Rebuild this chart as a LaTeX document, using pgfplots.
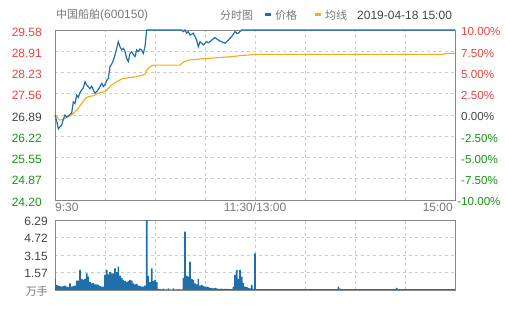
\documentclass[border=0pt]{standalone}
\usepackage{pgfplots}
\pgfplotsset{compat=1.18}
\usepackage{fontspec}
\setmainfont{Liberation Sans}
\newfontfamily\cjk{Noto Sans CJK SC}
\definecolor{pblue}{RGB}{31,112,170}
\definecolor{avgorange}{RGB}{250,168,20}
\definecolor{upred}{RGB}{240,64,64}
\definecolor{dngreen}{RGB}{20,150,20}
\definecolor{txtdark}{RGB}{68,68,68}
\definecolor{txtgray}{RGB}{120,120,120}
\definecolor{gridc}{RGB}{204,204,204}
\definecolor{framec}{RGB}{136,136,136}
\begin{document}
\fontsize{12}{14}\selectfont
\begin{tikzpicture}
\useasboundingbox (0pt,0pt) rectangle (505pt,310pt);
% title and legend
\node[anchor=west, text=txtgray, inner sep=0pt, font=\fontsize{12}{14}\selectfont] at (56pt,295pt) {{\fontsize{11}{13}\selectfont\cjk 中国船舶}(600150)};
\node[anchor=west, text=txtgray, inner sep=0pt, font=\fontsize{11}{13}\selectfont\cjk] at (220pt,295pt) {分时图};
\fill[pblue] (265pt,294pt) rectangle (271pt,296.5pt);
\node[anchor=west, text=txtgray, inner sep=0pt, font=\fontsize{11}{13}\selectfont\cjk] at (275pt,295pt) {价格};
\fill[avgorange] (315pt,294pt) rectangle (321pt,296.5pt);
\node[anchor=west, text=txtgray, inner sep=0pt, font=\fontsize{11}{13}\selectfont\cjk] at (325pt,295pt) {均线};
\node[anchor=west, text=txtdark, inner sep=0pt, font=\fontsize{12}{14}\selectfont] at (357pt,295pt) {2019-04-18 15:00};
% main price axis
\begin{axis}[
  at={(55pt,110pt)}, anchor=south west,
  width=400pt, height=170pt, scale only axis,
  xmin=0, xmax=240, ymin=24.20, ymax=29.58,
  xtick={0,30,...,240}, xticklabels={},
  ytick={24.20,24.8725,25.545,26.2175,26.89,27.5625,28.235,28.9075,29.58},
  yticklabels={\textcolor{dngreen}{24.20},\textcolor{dngreen}{24.87},\textcolor{dngreen}{25.55},\textcolor{dngreen}{26.22},\textcolor{txtdark}{26.89},\textcolor{upred}{27.56},\textcolor{upred}{28.23},\textcolor{upred}{28.91},\textcolor{upred}{29.58}},
  grid=major, grid style={gridc, dash pattern=on 3pt off 3pt, line width=0.6pt},
  axis line style={framec, line width=0.9pt},
  major tick length=0pt,
  yticklabel style={anchor=east, xshift=-9pt, yshift=-2pt, font=\fontsize{12}{14}\selectfont},
  clip=false,
]
\addplot[avgorange, line width=1.1pt] coordinates {
(0,26.89)(3,26.73)(5,26.76)(8,26.84)(10,26.89)(12,26.99)(14,27.10)(16,27.26)(18,27.40)(20,27.47)
(23,27.50)(26,27.58)(30,27.63)(32,27.73)(34,27.84)(37,27.94)(40,28.03)(44,28.07)(49,28.10)(53,28.16)
(54,28.18)(55,28.30)(56,28.37)(58,28.45)(60,28.47)(75,28.47)(77,28.56)(80,28.63)(91,28.68)(107,28.74)
(111,28.77)(117,28.79)(120,28.81)(233,28.81)(234,28.84)(240,28.84)};
\addplot[pblue, line width=1.2pt] coordinates {
(0,26.89)(1,26.70)(2,26.45)(3,26.52)(4,26.57)(5,26.75)(6,26.89)(7,26.82)(8,26.86)(9,26.91)
(10,26.95)(11,27.31)(12,27.25)(13,27.52)(14,27.45)(15,27.60)(16,27.68)(17,27.75)(18,27.94)(19,27.84)
(20,27.78)(21,27.72)(22,27.80)(23,27.68)(24,27.58)(25,27.63)(26,27.70)(27,27.79)(28,27.89)(29,27.79)
(30,27.85)(31,27.98)(32,28.05)(33,28.42)(34,28.50)(35,28.62)(36,28.79)(37,29.00)(38,29.21)(39,29.05)
(40,28.95)(41,29.00)(42,28.90)(43,28.68)(44,28.58)(45,28.84)(46,28.89)(47,28.80)(48,28.74)(49,28.95)
(50,28.90)(51,28.98)(52,28.95)(53,28.84)(54,29.05)(55,29.58)(76,29.58)(77,29.53)(78,29.58)(79,29.48)
(80,29.53)(81,29.42)(82,29.45)(83,29.48)(84,29.37)(85,29.26)(86,29.05)(87,29.21)(88,29.16)(89,29.11)
(90,29.16)(91,29.21)(92,29.18)(93,29.21)(94,29.26)(95,29.30)(96,29.34)(97,29.30)(98,29.26)(99,29.23)
(100,29.21)(101,29.18)(102,29.16)(103,29.21)(104,29.26)(105,29.32)(106,29.37)(107,29.45)(108,29.53)(109,29.48)
(110,29.48)(111,29.53)(112,29.58)(240,29.58)};
\node[anchor=north west, text=txtgray, inner sep=0pt, font=\fontsize{12}{14}\selectfont] at (rel axis cs:0,0) [yshift=-3pt] {9:30};
\node[anchor=north, text=txtgray, inner sep=0pt, font=\fontsize{12}{14}\selectfont] at (rel axis cs:0.5,0) [yshift=-3pt] {11:30/13:00};
\node[anchor=north east, text=txtgray, inner sep=0pt, font=\fontsize{12}{14}\selectfont] at (rel axis cs:1,0) [yshift=-3pt,xshift=-2pt] {15:00};
\end{axis}
% right percentage axis
\begin{axis}[
  at={(55pt,110pt)}, anchor=south west,
  width=400pt, height=170pt, scale only axis,
  xmin=0, xmax=240, ymin=-10, ymax=10,
  axis x line=none, axis y line*=right,
  ytick={-10,-7.5,-5,-2.5,0,2.5,5,7.5,10},
  yticklabels={\textcolor{dngreen}{\llap{-}10.00\%},\textcolor{dngreen}{-7.50\%},\textcolor{dngreen}{-5.00\%},\textcolor{dngreen}{-2.50\%},\textcolor{txtdark}{0.00\%},\textcolor{upred}{2.50\%},\textcolor{upred}{5.00\%},\textcolor{upred}{7.50\%},\textcolor{upred}{10.00\%}},
  axis line style={framec, line width=0.9pt},
  major tick length=0pt,
  yticklabel style={anchor=west, xshift=2pt, yshift=-2pt, font=\fontsize{11.6}{14}\selectfont},
]
\addplot[draw=none] coordinates {(0,0)};
\end{axis}
% volume axis
\begin{axis}[
  at={(55pt,20pt)}, anchor=south west,
  width=400pt, height=70pt, scale only axis,
  xmin=0, xmax=240, ymin=0, ymax=6.29,
  xtick={0,30,...,240}, xticklabels={},
  ytick={0,1.5725,3.145,4.7175,6.29},
  yticklabels={\textcolor{txtgray}{\fontsize{11}{13}\selectfont\cjk 万手},\textcolor{txtdark}{1.57},\textcolor{txtdark}{3.15},\textcolor{txtdark}{4.72},\textcolor{txtdark}{6.29}},
  grid=major, grid style={gridc, dash pattern=on 3pt off 3pt, line width=0.6pt},
  axis line style={framec, line width=0.9pt},
  major tick length=0pt,
  yticklabel style={anchor=east, xshift=-3pt, yshift=-1pt, font=\fontsize{12}{14}\selectfont},
]
\addplot[ybar, bar width=1, bar shift=0pt, fill=pblue, draw=none] coordinates {
(0,1.0)(1,0.45)(2,0.4)(3,0.35)(4,0.3)(5,0.35)(6,0.4)(7,0.3)(8,0.25)(9,0.6)
(10,0.3)(11,0.35)(12,0.4)(13,0.84)(14,0.84)(15,1.8)(16,1.0)(17,0.9)(18,1.0)(19,1.5)
(20,1.2)(21,0.7)(22,0.6)(23,0.65)(24,0.5)(25,0.5)(26,0.45)(27,0.35)(28,0.3)(29,0.3)
(30,1.35)(31,1.8)(32,1.4)(33,1.6)(34,1.5)(35,1.5)(36,1.95)(37,1.6)(38,2.1)(39,1.3)
(40,1.1)(41,0.9)(42,0.8)(43,0.7)(44,0.8)(45,0.9)(46,0.85)(47,0.6)(48,0.5)(49,0.55)
(50,0.4)(51,0.35)(52,0.3)(53,0.3)(54,0.4)(55,6.29)(56,1.26)(57,0.7)(58,1.95)(59,0.8)
(60,0.9)(61,0.7)(62,0.1)(63,0.08)(64,0.05)(65,0.12)(66,0.05)(67,0.06)(68,0.15)(69,0.05)
(70,0.04)(71,0.15)(72,0.05)(73,0.05)(74,0.08)(75,0.05)(76,0.06)(77,1.1)(78,5.24)(79,1.3)
(80,1.2)(81,2.55)(82,1.0)(83,0.9)(84,0.6)(85,0.5)(86,1.0)(87,0.4)(88,0.45)(89,0.35)
(90,0.3)(91,0.3)(92,0.25)(93,0.2)(94,0.2)(95,0.15)(96,0.2)(97,0.15)(98,0.1)(99,0.1)
(100,0.12)(101,0.08)(102,0.1)(103,0.1)(104,0.1)(105,0.08)(106,0.1)(107,0.3)(108,1.35)(109,1.8)
(110,1.0)(111,1.8)(112,1.2)(113,0.65)(114,0.3)(115,0.25)(116,0.2)(117,0.15)(118,0.45)(119,0.1)
(120,3.3)(121,0.07)(122,0.07)(123,0.07)(124,0.07)(125,0.07)(126,0.07)(127,0.07)(128,0.07)(129,0.07)
(130,0.07)(131,0.07)(132,0.07)(133,0.07)(134,0.07)(135,0.07)(136,0.07)(137,0.07)(138,0.07)(139,0.07)
(140,0.07)(141,0.07)(142,0.07)(143,0.07)(144,0.07)(145,0.07)(146,0.07)(147,0.07)(148,0.07)(149,0.07)
(150,0.07)(151,0.07)(152,0.07)(153,0.07)(154,0.07)(155,0.07)(156,0.07)(157,0.07)(158,0.07)(159,0.07)
(160,0.07)(161,0.07)(162,0.07)(163,0.07)(164,0.07)(165,0.07)(166,0.07)(167,0.07)(168,0.07)(169,0.07)
(170,0.3)(171,0.12)(172,0.07)(173,0.07)(174,0.07)(175,0.07)(176,0.07)(177,0.07)(178,0.07)(179,0.07)
(180,0.07)(181,0.07)(182,0.07)(183,0.07)(184,0.07)(185,0.07)(186,0.07)(187,0.07)(188,0.07)(189,0.07)
(190,0.07)(191,0.07)(192,0.07)(193,0.07)(194,0.07)(195,0.07)(196,0.07)(197,0.07)(198,0.07)(199,0.07)
(200,0.07)(201,0.07)(202,0.07)(203,0.07)(204,0.07)(205,0.2)(206,0.07)(207,0.07)(208,0.07)(209,0.07)
(210,0.07)(211,0.07)(212,0.07)(213,0.07)(214,0.07)(215,0.07)(216,0.07)(217,0.07)(218,0.07)(219,0.07)
(220,0.07)(221,0.07)(222,0.07)(223,0.07)(224,0.07)(225,0.07)(226,0.07)(227,0.07)(228,0.07)(229,0.07)
(230,0.07)(231,0.07)(232,0.07)(233,0.07)(234,0.07)(235,0.07)(236,0.07)(237,0.07)(238,0.07)(239,0.07)
(240,0.07)};
\end{axis}
\end{tikzpicture}
\end{document}
